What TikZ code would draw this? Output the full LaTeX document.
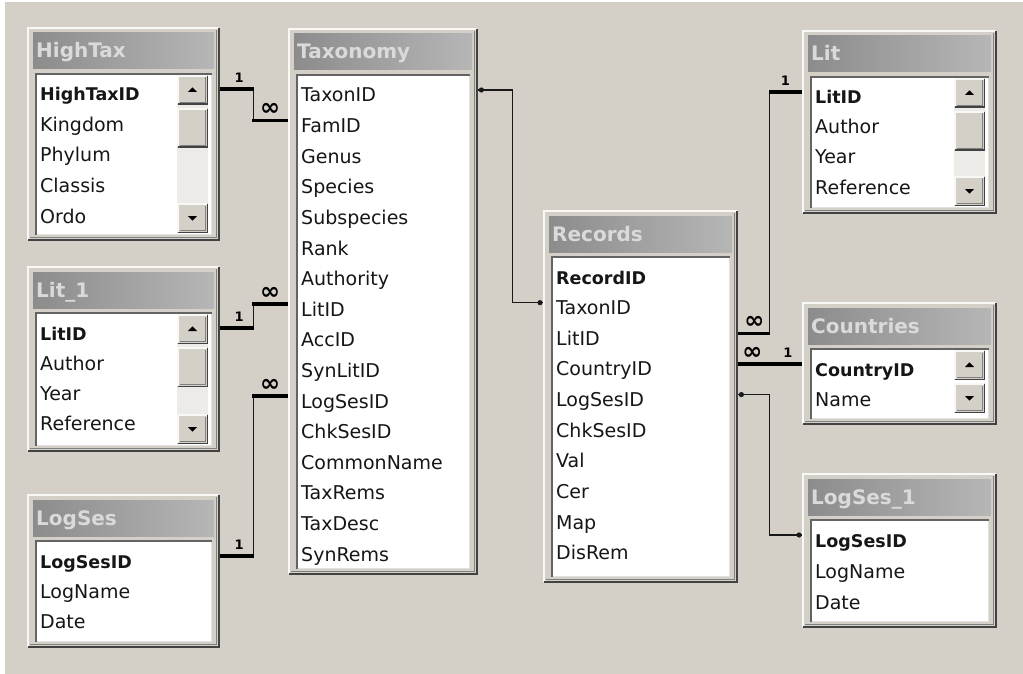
\documentclass[tikz,border=0pt]{standalone}
\usepackage{fontspec}
\setmainfont{DejaVu Sans}
\definecolor{bg}{RGB}{212,208,200}
\definecolor{tbl}{RGB}{140,140,140}
\definecolor{tbr}{RGB}{182,182,182}
\definecolor{ttext}{RGB}{218,218,218}
\definecolor{edark}{RGB}{66,66,66}
\definecolor{egray}{RGB}{128,128,128}
\definecolor{elight}{RGB}{248,248,246}
\definecolor{lgray}{RGB}{100,100,100}
\definecolor{lbright}{RGB}{225,225,225}
\definecolor{track}{RGB}{236,235,232}
\definecolor{lnk}{RGB}{25,25,25}
\definecolor{txt}{RGB}{22,22,22}
\newcommand\pkfont{\fontsize{17.5}{18}\selectfont\bfseries}
\tikzset{
  winbox/.style={fill=bg,draw=none,inner sep=0pt},
  ttl/.style={font=\fontsize{20}{20}\selectfont\bfseries,text=ttext,inner sep=0pt},
  row/.style={font=\fontsize{19}{19}\selectfont,text=txt,inner sep=0pt,text height=14pt,text depth=4pt},
  thinrel/.style={draw=lnk,line width=1.6pt},
  thickrel/.style={draw=black,line width=3.6pt},
  onelbl/.style={font=\fontsize{13}{13}\selectfont\bfseries,inner sep=0pt,above=5pt},
  manylbl/.style={font=\fontsize{24}{24}\selectfont\bfseries,inner sep=0pt,text depth=0pt,above=3pt},
}
% raised button: x1 y1 x2 y2 arrow (2 = up, -2 = down, 0 = none)
\newcommand\btn[5]{%
  \fill[bg] (#1,#2) rectangle (#3,#4);
  \draw[elight,line width=1.5pt] (#1+1,#4-1) -- (#1+1,#2+1) -- (#3-1,#2+1);
  \draw[edark,line width=1.5pt] (#1+1,#4-0.75) -- (#3-0.75,#4-0.75) -- (#3-0.75,#2+1);
  \draw[egray,line width=1pt] (#1+2.5,#4-2.5) -- (#3-2.5,#4-2.5) -- (#3-2.5,#2+2.5);
  \ifnum#5=0\relax\else
  \fill[black] ({(#1+#3)/2-4.5},{(#2+#4)/2+(#5)}) -- ({(#1+#3)/2+4.5},{(#2+#4)/2+(#5)}) -- ({(#1+#3)/2},{(#2+#4)/2-(#5)*1.3}) -- cycle;
  \fi
}
% table window: name x1 y1 x2 y2 title rows spacing scroll(0 none,1 full,2 up/down)
\newcommand\dbtable[9]{%
  \node[winbox,anchor=north west,minimum width={#4pt-#2pt},minimum height={#5pt-#3pt}] (#1) at (#2,#3) {};
  \draw[elight,line width=2pt] (#2+1,#5-1) -- (#2+1,#3+1) -- (#4-1,#3+1);
  \draw[edark,line width=2.5pt] (#2+1,#5-1.25) -- (#4-1.25,#5-1.25) -- (#4-1.25,#3+1);
  \draw[egray,line width=1.5pt] (#2+3,#5-3.5) -- (#4-3.5,#5-3.5) -- (#4-3.5,#3+3);
  \shade[left color=tbl,right color=tbr] (#2+6,#3+6) rectangle (#4-6,#3+42);
  \node[ttl,anchor=base west] (#1-t) at (#2+9,#3+31) {#6};
  \fill[white] (#2+8,#3+46) rectangle (#4-8,#5-6);
  \draw[lbright,line width=1.5pt] (#2+9,#5-6.75) -- (#4-8.75,#5-6.75) -- (#4-8.75,#3+47);
  \draw[lgray,line width=2pt] (#2+9,#5-6) -- (#2+9,#3+47) -- (#4-8,#3+47);
  \ifcase#9\relax\or
    \fill[track] (#4-43,#3+78) rectangle (#4-12,#5-38);
    \btn{#4-43}{#3+48}{#4-12}{#3+78}{2}
    \btn{#4-43}{#3+81}{#4-12}{#3+121}{0}
    \btn{#4-43}{#5-38}{#4-12}{#5-8}{-2}
  \or
    \btn{#4-43}{#3+48}{#4-12}{#3+78}{2}
    \btn{#4-43}{#3+81}{#4-12}{#3+111}{-2}
  \fi
  \foreach \rowtext [count=\ri] in {#7} {%
    \node[row,anchor=base west] (#1-\ri) at ({#2+13},{#3+74+(\ri-1)*#8}) {\rowtext};
  }%
}
\begin{document}
\begin{tikzpicture}[x=1pt,y=-1pt]
\useasboundingbox (0,0) rectangle (1023,674);
\fill[bg] (0,0) rectangle (1023,674);
\fill[white] (0,0) rectangle (5,674);
\fill[white] (0,0) rectangle (1023,2);

\dbtable{hightax}{27}{27}{220}{241}{HighTax}{\pkfont HighTaxID,Kingdom,Phylum,Classis,Ordo}{30.5}{1}
\dbtable{taxonomy}{288}{28}{478}{575}{Taxonomy}{TaxonID,FamID,Genus,Species,Subspecies,Rank,Authority,LitID,AccID,SynLitID,LogSesID,ChkSesID,CommonName,TaxRems,TaxDesc,SynRems}{30.6}{0}
\dbtable{lit1}{27}{266}{220}{452}{Lit\_1}{\pkfont LitID,Author,Year,Reference}{30}{1}
\dbtable{logses}{27}{494}{220}{648}{LogSes}{\pkfont LogSesID,LogName,Date}{30}{0}
\dbtable{records}{543}{210}{738}{583}{Records}{\pkfont RecordID,TaxonID,LitID,CountryID,LogSesID,ChkSesID,Val,Cer,Map,DisRem}{30.65}{0}
\dbtable{lit}{802}{30}{997}{214}{Lit}{\pkfont LitID,Author,Year,Reference}{30}{1}
\dbtable{countries}{802}{302}{997}{425}{Countries}{\pkfont CountryID,Name}{30}{2}
\dbtable{logses1}{802}{473}{997}{628}{LogSes\_1}{\pkfont LogSesID,LogName,Date}{31}{0}

% HighTax -> Taxonomy.FamID
\coordinate (p1) at ([yshift=7pt]hightax-1.west);
\coordinate (q1) at ([yshift=7pt]taxonomy-2.west);
\draw[thinrel] (p1 -| hightax.east) -- ++(33,0) |- (q1 -| taxonomy.west);
\draw[thickrel] (p1 -| hightax.east) -- ++(34,0) node[onelbl,pos=.55]{1};
\draw[thickrel] (q1 -| taxonomy.west) -- ++(-36,0) node[manylbl,midway]{∞};

% Lit_1 -> Taxonomy.LitID
\coordinate (p2) at ([yshift=7pt]lit1-1.west);
\coordinate (q2) at ([yshift=7pt]taxonomy-8.west);
\draw[thinrel] (p2 -| lit1.east) -- ++(33,0) |- (q2 -| taxonomy.west);
\draw[thickrel] (p2 -| lit1.east) -- ++(34,0) node[onelbl,pos=.55]{1};
\draw[thickrel] (q2 -| taxonomy.west) -- ++(-36,0) node[manylbl,midway]{∞};

% LogSes -> Taxonomy.LogSesID
\coordinate (p3) at ([yshift=7pt]logses-1.west);
\coordinate (q3) at ([yshift=7pt]taxonomy-11.west);
\draw[thinrel] (p3 -| logses.east) -- ++(33,0) |- (q3 -| taxonomy.west);
\draw[thickrel] (p3 -| logses.east) -- ++(34,0) node[onelbl,pos=.55]{1};
\draw[thickrel] (q3 -| taxonomy.west) -- ++(-36,0) node[manylbl,midway]{∞};

% Taxonomy.TaxonID -> Records.TaxonID
\coordinate (p4) at ([yshift=7pt]taxonomy-1.west);
\coordinate (q4) at ([yshift=7pt]records-2.west);
\draw[thinrel] (p4 -| taxonomy.east) -- ++(34,0) |- (q4 -| records.west);
\fill[lnk] ([xshift=3pt]p4 -| taxonomy.east) circle (2.6pt);
\fill[lnk] ([xshift=-3pt]q4 -| records.west) circle (2.6pt);

% Records.LitID -> Lit
\coordinate (p5) at ([yshift=7pt]records-3.west);
\coordinate (q5) at ([yshift=7pt]lit-1.west);
\draw[thinrel] (p5 -| records.east) -- ++(31,0) |- (q5 -| lit.west);
\draw[thickrel] (p5 -| records.east) -- ++(32,0) node[manylbl,midway]{∞};
\draw[thickrel] (q5 -| lit.west) -- ++(-33,0) node[onelbl,midway]{1};

% Records.CountryID -> Countries
\coordinate (p6) at ([yshift=7pt]records-4.west);
\draw[thickrel] (p6 -| records.east) -- (p6 -| countries.west)
  node[manylbl,pos=.22]{∞} node[onelbl,pos=.78]{1};

% Records.LogSesID -> LogSes_1
\coordinate (p7) at ([yshift=7pt]records-5.west);
\coordinate (q7) at ([yshift=7pt]logses1-1.west);
\draw[thinrel] (p7 -| records.east) -- ++(31,0) |- (q7 -| logses1.west);
\fill[lnk] ([xshift=3pt]p7 -| records.east) circle (2.6pt);
\fill[lnk] ([xshift=-3pt]q7 -| logses1.west) circle (2.6pt);
\end{tikzpicture}
\end{document}
